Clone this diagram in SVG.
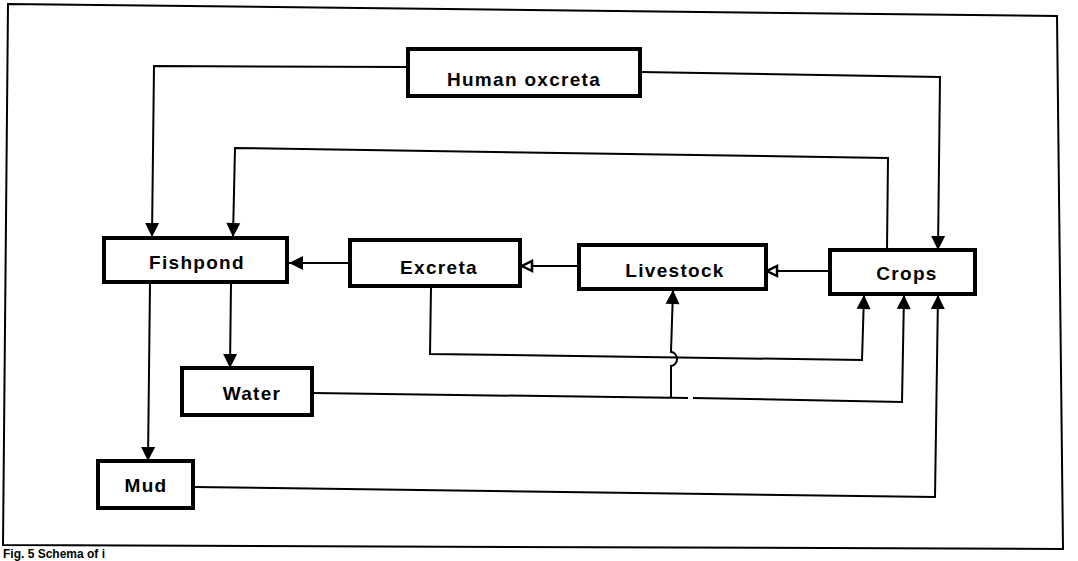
<svg xmlns="http://www.w3.org/2000/svg" width="1078" height="561" viewBox="0 0 1078 561">
<style>
.box{fill:#fff;stroke:#000;stroke-width:4}
.lbl{font-family:"Liberation Sans",Arial,sans-serif;font-weight:bold;font-size:19px;letter-spacing:1.3px;text-anchor:middle;fill:#000}
.ln{fill:none;stroke:#000;stroke-width:2}
.cap{font-family:"Liberation Sans",Arial,sans-serif;font-weight:bold;font-size:12px;fill:#000}
</style>
<defs>
<marker id="af" markerUnits="userSpaceOnUse" markerWidth="16" markerHeight="16" viewBox="0 0 16 16" refX="15" refY="8" orient="auto">
<path d="M1,1 L15,8 L1,15 Z" fill="#000"/>
</marker>
<marker id="ao" markerUnits="userSpaceOnUse" markerWidth="14" markerHeight="14" viewBox="0 0 14 14" refX="12" refY="7" orient="auto">
<path d="M2,2 L12,7 L2,12 Z" fill="#fff" stroke="#000" stroke-width="2.5" stroke-linejoin="miter"/>
</marker>
</defs>
<rect width="1078" height="561" fill="#fff"/>
<polygon points="8,4 1057,16 1063,549 3,545" fill="none" stroke="#000" stroke-width="2"/>
<text class="cap" x="3" y="558">Fig. 5 Schema of i</text>
<g id="connectors">
<polyline class="ln" points="408,67 154,66 152,237" marker-end="url(#af)"/>
<polyline class="ln" points="640,72 940,77 938,250" marker-end="url(#af)"/>
<polyline class="ln" points="887,250 888,158 235,148 233,237" marker-end="url(#af)"/>
<polyline class="ln" points="350,263 289,263" marker-end="url(#af)"/>
<polyline class="ln" points="579,266 522,266" marker-end="url(#ao)"/>
<polyline class="ln" points="830,271 767,271" marker-end="url(#ao)"/>
<polyline class="ln" points="231,283 230,368" marker-end="url(#af)"/>
<polyline class="ln" points="150,283 148,461" marker-end="url(#af)"/>
<polyline class="ln" points="431,287 430,354 862,360 864,295" marker-end="url(#af)"/>
<polyline class="ln" points="313,393 688,398"/>
<polyline class="ln" points="693,398 902,402 904,295" marker-end="url(#af)"/>
<path class="ln" d="M671,398 L671,366 A6,7 0 0 0 671,352 L673,290" marker-end="url(#af)"/>
<polyline class="ln" points="194,487 935,497 938,295" marker-end="url(#af)"/>
</g>
<g id="human-excreta"><rect class="box" x="408" y="49" width="232" height="47"/><text class="lbl" x="524" y="86">Human oxcreta</text></g>
<g id="fishpond"><rect class="box" x="104" y="238" width="183" height="44"/><text class="lbl" x="197" y="269">Fishpond</text></g>
<g id="excreta"><rect class="box" x="350" y="240" width="170" height="46"/><text class="lbl" x="439" y="274">Excreta</text></g>
<g id="livestock"><rect class="box" x="579" y="245" width="187" height="44"/><text class="lbl" x="675" y="277">Livestock</text></g>
<g id="crops"><rect class="box" x="830" y="250" width="145" height="44"/><text class="lbl" x="907" y="280">Crops</text></g>
<g id="water"><rect class="box" x="182" y="368" width="130" height="47"/><text class="lbl" x="252" y="400">Water</text></g>
<g id="mud"><rect class="box" x="98" y="461" width="95" height="47"/><text class="lbl" x="146" y="492">Mud</text></g>
</svg>
